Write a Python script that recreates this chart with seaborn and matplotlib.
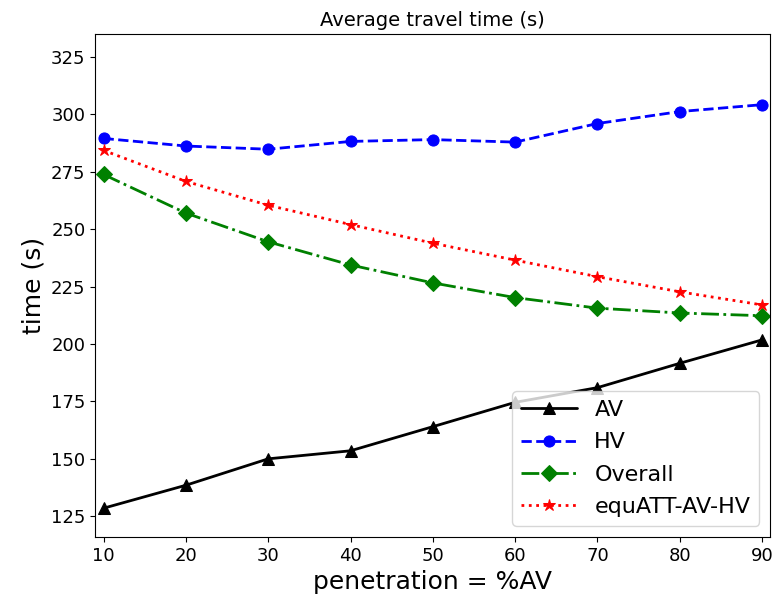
import matplotlib
matplotlib.use("Agg")
import matplotlib.pyplot as plt
import seaborn as sns
import pandas as pd

penetration = [10, 20, 30, 40, 50, 60, 70, 80, 90]
av = [128.5, 138.5, 150.0, 153.5, 164.0, 174.6, 181.0, 191.6, 201.8]
hv = [289.5, 286.2, 284.8, 288.2, 289.0, 287.9, 296.0, 301.2, 304.2]
overall = [273.8, 257.0, 244.5, 234.4, 226.6, 220.2, 215.6, 213.5, 212.3]
equ = [284.3, 270.8, 260.4, 252.0, 243.9, 236.5, 229.3, 222.7, 217.0]

sns.set_style("ticks")
plt.rcParams['font.family'] = ['DejaVu Sans']
for k in ['text.color', 'axes.labelcolor', 'xtick.color', 'ytick.color', 'axes.edgecolor']:
    plt.rcParams[k] = 'black'

fig, ax = plt.subplots(figsize=(7.75, 6.06), dpi=100)

series = [
    ("AV", av, "black", "-", "^", 8),
    ("HV", hv, "blue", "--", "o", 8),
    ("Overall", overall, "green", "-.", "D", 8),
    ("equATT-AV-HV", equ, "red", ":", "*", 9),
]
for name, vals, color, ls, mk, ms in series:
    df = pd.DataFrame({"x": penetration, "y": vals})
    sns.lineplot(data=df, x="x", y="y", ax=ax, color=color, linestyle=ls,
                 marker=mk, markersize=ms, markeredgecolor=color, linewidth=2,
                 label=name)

ax.set_xlim(9, 91)
ax.set_ylim(116, 335)
ax.set_xticks(penetration)
ax.set_yticks([125, 150, 175, 200, 225, 250, 275, 300, 325])
ax.tick_params(labelsize=13, colors='black')
ax.set_xlabel("penetration = %AV", fontsize=18)
ax.set_ylabel("time (s)", fontsize=18)
ax.set_title("Average travel time (s)", fontsize=14)
for s in ax.spines.values():
    s.set_visible(True)
    s.set_color("black")
ax.legend(loc="lower right", fontsize=16, handlelength=2.5, labelspacing=0.55)

fig.subplots_adjust(left=0.123, right=0.994, top=0.944, bottom=0.114)
fig.savefig("out.png", dpi=100)
